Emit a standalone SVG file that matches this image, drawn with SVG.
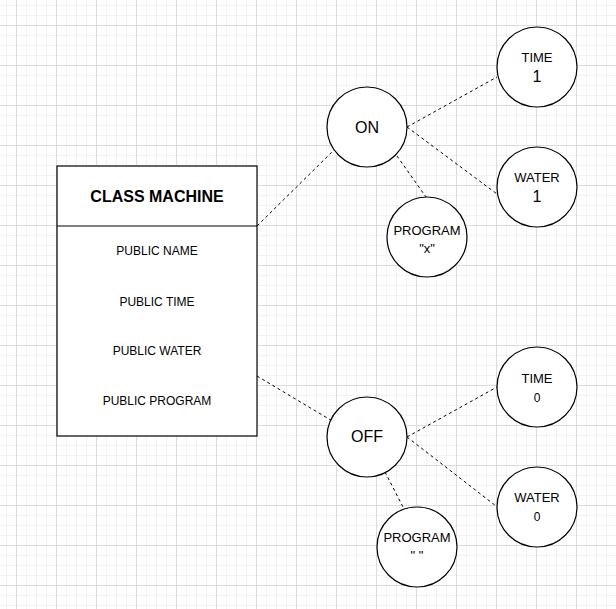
<svg xmlns="http://www.w3.org/2000/svg" width="616" height="609" viewBox="0 0 616 609">
<style>
.n{fill:#fff;stroke:#000;stroke-width:1.2}
.c{fill:none;stroke:#000;stroke-width:1;stroke-dasharray:3 3}
text{font-family:"Liberation Sans",Arial,sans-serif;fill:#000;text-anchor:middle}
.a{font-size:12px}
.s{font-size:13px}
.b{font-size:16px}
.h{font-size:16px;font-weight:bold}
</style>
<defs>
<pattern id="grid" x="16" y="25" width="40" height="40" patternUnits="userSpaceOnUse">
<rect x="0" y="0" width="40" height="40" fill="#fff"/>
<rect x="10" y="0" width="1" height="40" fill="#f2f2f2"/>
<rect x="20" y="0" width="1" height="40" fill="#f2f2f2"/>
<rect x="30" y="0" width="1" height="40" fill="#f2f2f2"/>
<rect x="0" y="10" width="40" height="1" fill="#f2f2f2"/>
<rect x="0" y="20" width="40" height="1" fill="#f2f2f2"/>
<rect x="0" y="30" width="40" height="1" fill="#f2f2f2"/>
<rect x="0" y="0" width="1" height="40" fill="#dcdcdc"/>
<rect x="0" y="0" width="40" height="1" fill="#dcdcdc"/>
</pattern>
</defs>
<rect width="616" height="609" fill="url(#grid)"/>
<g id="connectors">
<line class="c" x1="257" y1="226" x2="334" y2="150"/>
<line class="c" x1="257" y1="376" x2="334" y2="422"/>
<line class="c" x1="407" y1="127" x2="497" y2="77"/>
<line class="c" x1="407" y1="127" x2="497" y2="194"/>
<line class="c" x1="397" y1="156" x2="426" y2="197"/>
<line class="c" x1="407" y1="437" x2="497" y2="387"/>
<line class="c" x1="407" y1="437" x2="496" y2="506"/>
<line class="c" x1="385" y1="472" x2="403" y2="507"/>
</g>
<g id="class-machine">
<rect x="57" y="166" width="200" height="270" fill="#fff" stroke="#000" stroke-width="1.2"/>
<line x1="57" y1="226" x2="257" y2="226" stroke="#000" stroke-width="1.2"/>
<text class="h" x="157" y="202">CLASS MACHINE</text>
<text class="a" x="157" y="255">PUBLIC NAME</text>
<text class="a" x="157" y="306">PUBLIC TIME</text>
<text class="a" x="157" y="355">PUBLIC WATER</text>
<text class="a" x="157" y="405">PUBLIC PROGRAM</text>
</g>
<g id="on">
<circle class="n" cx="367" cy="127" r="40"/>
<text class="b" x="367" y="133">ON</text>
</g>
<g id="time-1">
<circle class="n" cx="537" cy="67" r="40"/>
<text class="s" x="537" y="62">TIME</text>
<text class="b" x="537" y="82">1</text>
</g>
<g id="water-1">
<circle class="n" cx="537" cy="187" r="40"/>
<text class="s" x="537" y="182">WATER</text>
<text class="b" x="537" y="202">1</text>
</g>
<g id="program-on">
<circle class="n" cx="427" cy="237" r="40"/>
<text class="s" x="427" y="235">PROGRAM</text>
<text class="s" x="427" y="253">"x"</text>
</g>
<g id="off">
<circle class="n" cx="367" cy="437" r="40"/>
<text class="b" x="367" y="442">OFF</text>
</g>
<g id="time-0">
<circle class="n" cx="537" cy="387" r="40"/>
<text class="s" x="537" y="383">TIME</text>
<text class="a" x="537" y="402">0</text>
</g>
<g id="water-0">
<circle class="n" cx="537" cy="507" r="40"/>
<text class="s" x="537" y="502">WATER</text>
<text class="a" x="537" y="521">0</text>
</g>
<g id="program-off">
<circle class="n" cx="417" cy="547" r="40"/>
<text class="s" x="417" y="542">PROGRAM</text>
<text class="s" x="417" y="560">" "</text>
</g>
</svg>
